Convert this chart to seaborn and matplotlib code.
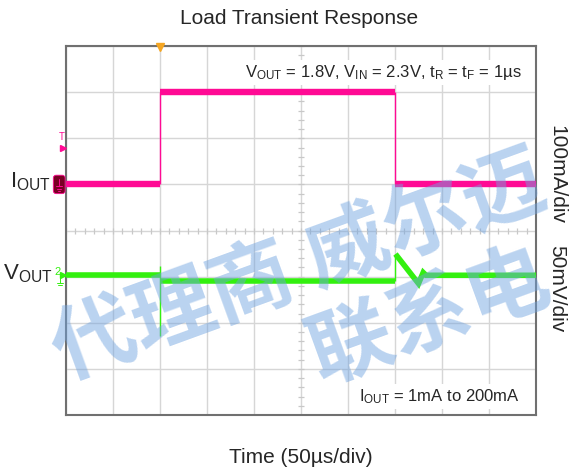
import numpy as np
import pandas as pd
import matplotlib
matplotlib.use("Agg")
import matplotlib.pyplot as plt
from matplotlib.patches import FancyBboxPatch
import seaborn as sns

# ---------------- data ----------------
# time axis: 50 us/div, 10 divisions
time_per_div_us = 50
# load current (mA): step 1mA -> 200mA at 100us, back at 350us
iout_seg_t = [[0, 100], [100, 350], [350, 500]]
iout_seg_mA = [[1, 1], [200, 200], [1, 1]]
iout_edge_t = [[100, 100], [350, 350]]
iout_edge_mA = [[1, 200], [200, 1]]
# output voltage deviation (mV), 50 mV/div
vout_seg_t = [[0, 100], [100, 350], [350.5, 375, 380, 383, 500]]
vout_seg_mV = [[0, 0], [-6.2, -6.2], [23, -9, 3, 0, 0]]
vout_edge_t = [[100, 100], [350, 350]]
vout_edge_mV = [[10, -66], [-6.2, 23]]

iout_offset_div = 5.0     # ch1 ground position
iout_mA_per_div = 100
vout_offset_div = 3.03    # ch2 reference position
vout_mV_per_div = 50

PINK = "#ff0a94"
GREEN = "#33f00f"


def frame(ts, vs, off, scale, tag):
    rows = []
    for i, (tt, vv) in enumerate(zip(ts, vs)):
        for t, v in zip(tt, vv):
            rows.append({"div_x": t / time_per_div_us, "div_y": off + v / scale, "seg": f"{tag}{i}"})
    return pd.DataFrame(rows)


df_i = frame(iout_seg_t, iout_seg_mA, iout_offset_div, iout_mA_per_div, "i")
df_ie = frame(iout_edge_t, iout_edge_mA, iout_offset_div, iout_mA_per_div, "ie")
df_v = frame(vout_seg_t, vout_seg_mV, vout_offset_div, vout_mV_per_div, "v")
df_ve = frame(vout_edge_t, vout_edge_mV, vout_offset_div, vout_mV_per_div, "ve")

# ---------------- style ----------------
sns.set_style("white")
plt.rcParams["font.family"] = ["Liberation Sans", "DejaVu Sans"]
plt.rcParams["mathtext.fontset"] = "custom"
plt.rcParams["mathtext.rm"] = "Liberation Sans"
plt.rcParams["mathtext.it"] = "Liberation Sans"

fig = plt.figure(figsize=(5.69, 4.73), dpi=100)
ax = fig.add_axes([0.116, 0.1226, 0.826, 0.780])
ax.set_xlim(0, 10)
ax.set_ylim(0, 8)
ax.set_xticks(range(0, 11))
ax.set_yticks(range(0, 9))
ax.tick_params(length=0, labelbottom=False, labelleft=False)
ax.grid(True, color="#d6d6d6", lw=1.0)
for s in ax.spines.values():
    s.set_color("#707070")
    s.set_linewidth(1.5)

# center-line minor ticks
mx = np.arange(0, 10.01, 0.2)
my = np.arange(0, 8.01, 0.2)
ax.plot(mx, np.full_like(mx, 4.0), ls="none", marker="|", ms=5, mew=0.9, color="#c8c8c8", zorder=1)
ax.plot(np.full_like(my, 5.0), my, ls="none", marker="_", ms=5, mew=0.9, color="#c8c8c8", zorder=1)

# traces
sns.lineplot(data=df_ie, x="div_x", y="div_y", units="seg", estimator=None, color=PINK, lw=1.0,
             ax=ax, zorder=3, solid_capstyle="butt")
sns.lineplot(data=df_i, x="div_x", y="div_y", units="seg", estimator=None, color=PINK, lw=4.6,
             ax=ax, zorder=4, solid_capstyle="butt")
sns.lineplot(data=df_ve, x="div_x", y="div_y", units="seg", estimator=None, color=GREEN, lw=1.0,
             ax=ax, zorder=3, solid_capstyle="butt")
sns.lineplot(data=df_v, x="div_x", y="div_y", units="seg", estimator=None, color=GREEN, lw=4.0,
             ax=ax, zorder=4, solid_capstyle="butt", solid_joinstyle="miter")
ax.set_xlabel("")
ax.set_ylabel("")

# trigger marker at top
ax.plot([2.0], [7.97], marker="v", ms=6, color="#f5a623", clip_on=False, zorder=6)

# channel 1 marker
box = FancyBboxPatch((-0.27, 4.80), 0.25, 0.40, boxstyle="round,pad=0,rounding_size=0.06",
                     fc="#7a0024", ec=PINK, lw=0.6, clip_on=False, zorder=6, transform=ax.transData)
ax.add_patch(box)
ax.plot([-0.145, -0.145], [5.12, 4.96], color=PINK, lw=0.7, clip_on=False, zorder=7)
ax.plot([-0.21, -0.08], [4.96, 4.96], color=PINK, lw=0.7, clip_on=False, zorder=7)
ax.plot([-0.185, -0.105], [4.91, 4.91], color=PINK, lw=0.7, clip_on=False, zorder=7)
ax.plot([-0.16, -0.13], [4.86, 4.86], color=PINK, lw=0.7, clip_on=False, zorder=7)
ax.text(-0.09, 6.02, "T", color=PINK, fontsize=7, ha="center", va="center", clip_on=False)
ax.plot([-0.07], [5.8], marker=">", ms=4, color=PINK, clip_on=False, zorder=7)

# channel 2 marker
ax.text(-0.19, 3.1, "2", color=GREEN, fontsize=8, ha="center", va="center", clip_on=False)
ax.plot([-0.06], [3.03], marker=">", ms=4, color=GREEN, clip_on=False, zorder=7)
ax.plot([-0.13, -0.13], [3.03, 2.86], color=GREEN, lw=0.7, clip_on=False, zorder=7)
ax.plot([-0.2, -0.06], [2.86, 2.86], color=GREEN, lw=0.7, clip_on=False, zorder=7)
ax.plot([-0.17, -0.09], [2.81, 2.81], color=GREEN, lw=0.7, clip_on=False, zorder=7)

# left labels
ax.text(-0.33, 5.05, r"I$_{\rm OUT}$", fontsize=16, ha="right", va="center", clip_on=False)
ax.text(-0.29, 3.06, r"V$_{\rm OUT}$", fontsize=16, ha="right", va="center", clip_on=False)

# annotations inside the plot
ax.text(9.70, 7.43, r"V$_{\rm OUT}$ = 1.8V, V$_{\rm IN}$ = 2.3V, t$_{\rm R}$ = t$_{\rm F}$ = 1µs",
        fontsize=12, ha="right", va="center", zorder=8,
        bbox=dict(fc="white", ec="none", pad=2))
ax.text(9.66, 0.40, r"I$_{\rm OUT}$ = 1mA to 200mA", fontsize=12, ha="right", va="center", zorder=8,
        bbox=dict(fc="white", ec="none", pad=2))

# figure texts
fig.text(0.525, 0.960, "Load Transient Response", fontsize=15, ha="center", va="center")
fig.text(0.528, 0.032, "Time (50µs/div)", fontsize=15, ha="center", va="center")
fig.text(0.978, 0.632, "100mA/div", fontsize=15, rotation=270, ha="center", va="center")
fig.text(0.978, 0.389, "50mV/div", fontsize=15, rotation=270, ha="center", va="center")

# watermark
wm = dict(fontsize=60, color="#6fa3e0", alpha=0.48, rotation=20, rotation_mode="anchor",
          ha="left", va="center", family=["Noto Sans CJK SC", "DejaVu Sans"],
          fontweight="bold", zorder=20)
fig.text(0.098, 0.245, "代理商 威尔迈", **wm)
fig.text(0.549, 0.237, "联系电", **wm)

fig.savefig("out.png", dpi=100)
